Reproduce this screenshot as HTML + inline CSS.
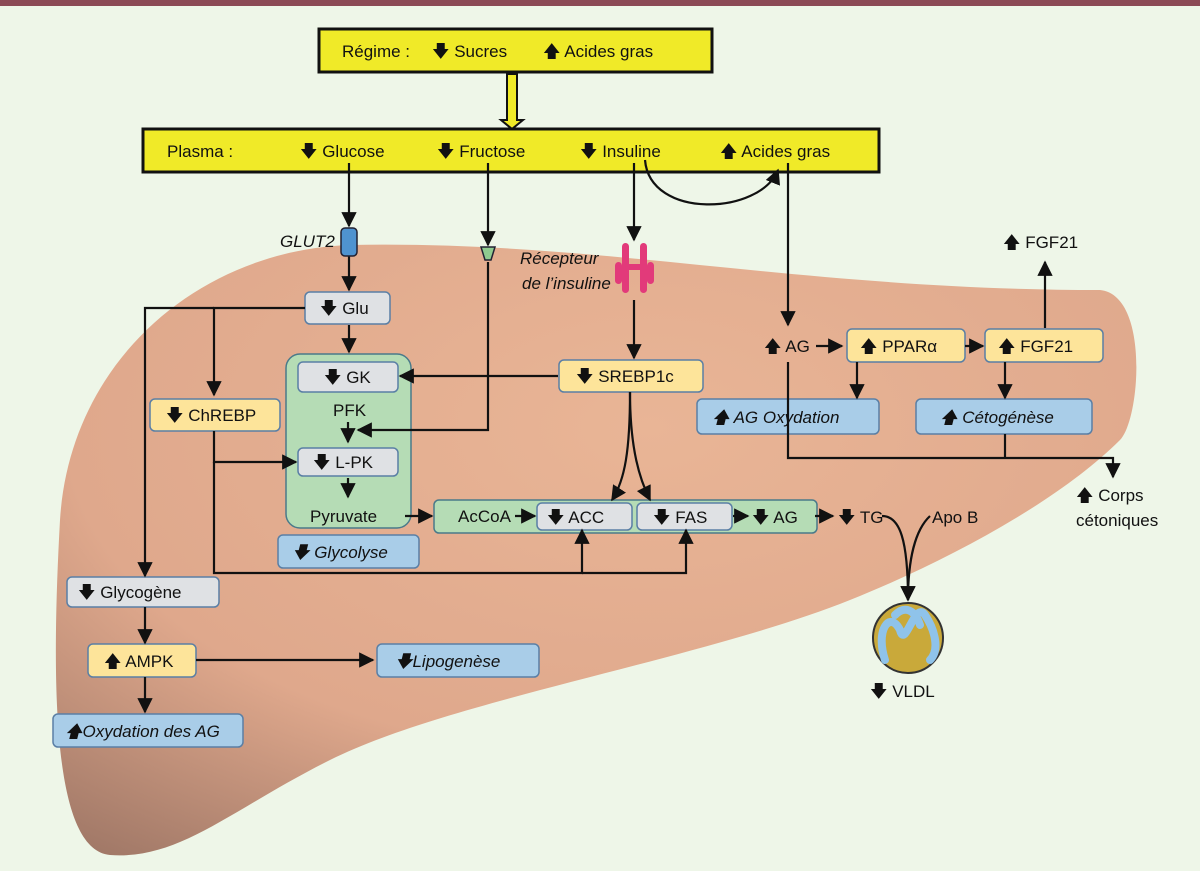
<!DOCTYPE html>
<html><head><meta charset="utf-8"><style>
body{margin:0;background:#eef6e8}
svg{display:block}
text{font-family:"Liberation Sans",sans-serif;font-size:17px;fill:#111}
.i{font-style:italic}
</style></head><body>
<svg width="1200" height="871" viewBox="0 0 1200 871" xmlns="http://www.w3.org/2000/svg">
<defs>
<radialGradient id="lv" cx="0.55" cy="0.3" r="0.9">
<stop offset="0" stop-color="#e9b596"/><stop offset="0.6" stop-color="#dfa88c"/><stop offset="1" stop-color="#9a7363"/>
</radialGradient>
<marker id="a" viewBox="0 0 10 10" refX="9" refY="5" markerWidth="7" markerHeight="7" orient="auto-start-reverse"><path d="M0,0L10,5L0,10z" fill="#111"/></marker>
</defs>
<rect width="1200" height="871" fill="#eef6e8"/>
<rect width="1200" height="6" fill="#8b4a55"/>
<path d="M60,520 C70,360 200,250 350,245 C600,240 800,290 1100,290 C1150,295 1140,420 1120,440 C1060,500 950,560 850,600 C700,660 450,700 330,760 C230,810 180,860 110,855 C55,850 50,700 60,520Z" fill="url(#lv)"/>
<rect x="319" y="29" width="393" height="43" fill="#f0ea28" stroke="#111" stroke-width="3"/>
<text x="342" y="57">Régime :</text><text x="432" y="57">🡇 Sucres</text><text x="543" y="57">🡅 Acides gras</text>
<rect x="143" y="129" width="736" height="43" fill="#f0ea28" stroke="#111" stroke-width="3"/>
<text x="167" y="157">Plasma :</text>
<text x="300" y="157">🡇 Glucose</text><text x="437" y="157">🡇 Fructose</text><text x="580" y="157">🡇 Insuline</text><text x="720" y="157">🡅 Acides gras</text>
<path d="M507,74V120H501L512,129L523,120H517V74Z" fill="#f0ea28" stroke="#111" stroke-width="2"/>
<rect x="286" y="354" width="125" height="174" rx="14" fill="#b5dcb5" stroke="#4a7a8a" stroke-width="1.5"/>
<rect x="434" y="500" width="383" height="33" rx="5" fill="#b5dcb5" stroke="#4a7a8a" stroke-width="1.5"/>
<g stroke="#5a7fa5" stroke-width="1.5">
<rect x="305" y="292" width="85" height="32" rx="5" fill="#dfe1e4"/>
<rect x="298" y="362" width="100" height="30" rx="5" fill="#dfe1e4"/>
<rect x="298" y="448" width="100" height="28" rx="5" fill="#dfe1e4"/>
<rect x="537" y="503" width="95" height="27" rx="5" fill="#dfe1e4"/>
<rect x="637" y="503" width="95" height="27" rx="5" fill="#dfe1e4"/>
<rect x="67" y="577" width="152" height="30" rx="5" fill="#dfe1e4"/>
<rect x="150" y="399" width="130" height="32" rx="5" fill="#fde49a"/>
<rect x="559" y="360" width="144" height="32" rx="5" fill="#fde49a"/>
<rect x="88" y="644" width="108" height="33" rx="5" fill="#fde49a"/>
<rect x="847" y="329" width="118" height="33" rx="5" fill="#fde49a"/>
<rect x="985" y="329" width="118" height="33" rx="5" fill="#fde49a"/>
<rect x="278" y="535" width="141" height="33" rx="5" fill="#a9cde8"/>
<rect x="53" y="714" width="190" height="33" rx="5" fill="#a9cde8"/>
<rect x="377" y="644" width="162" height="33" rx="5" fill="#a9cde8"/>
<rect x="697" y="399" width="182" height="35" rx="5" fill="#a9cde8"/>
<rect x="916" y="399" width="176" height="35" rx="5" fill="#a9cde8"/>
</g>
<g stroke="#111" stroke-width="2.2" fill="none" marker-end="url(#a)">
<line x1="349" y1="163" x2="349" y2="226"/>
<line x1="349" y1="254" x2="349" y2="290"/>
<line x1="488" y1="163" x2="488" y2="245"/>
<line x1="634" y1="163" x2="634" y2="240"/>
<line x1="634" y1="300" x2="634" y2="358"/>
<line x1="788" y1="163" x2="788" y2="325"/>
<path d="M645,160 C650,220 760,215 778,170"/>
<line x1="349" y1="325" x2="349" y2="352"/>
<path d="M558,376H400"/>
<path d="M488,262V430H358"/>
<line x1="348" y1="422" x2="348" y2="442"/>
<line x1="348" y1="478" x2="348" y2="497"/>
<path d="M405,516H432"/>
<path d="M515,516H535"/>
<path d="M733,516H748"/>
<path d="M815,516H833"/>
<path d="M305,308H214V395"/>
<path d="M214,308H145V576"/>
<path d="M214,431V462H296"/>
<path d="M214,462V573H582V530"/>
<path d="M582,573H686V530"/>
<path d="M630,392C630,450 625,480 612,500"/>
<path d="M630,392C630,450 640,480 650,500"/>
<line x1="145" y1="607" x2="145" y2="643"/>
<line x1="145" y1="677" x2="145" y2="712"/>
<path d="M196,660H373"/>
<path d="M816,346H842"/>
<path d="M965,346H983"/>
<line x1="857" y1="362" x2="857" y2="398"/>
<line x1="1005" y1="362" x2="1005" y2="398"/>
<line x1="1045" y1="328" x2="1045" y2="262"/>
<path d="M788,362V458H1113V477"/>
<path d="M882,516C900,516 908,540 908,600"/>
<path d="M930,516C915,530 908,560 908,600"/>
</g>
<line x1="1005" y1="434" x2="1005" y2="458" stroke="#111" stroke-width="2.2"/>
<rect x="341" y="228" width="16" height="28" rx="4" fill="#4f93d0" stroke="#223" stroke-width="1.5"/>
<text x="280" y="247" class="i" font-size="15">GLUT2</text>
<path d="M481,247H495L491,260H485Z" fill="#8fcb8f" stroke="#223" stroke-width="1.5"/>
<g fill="#e23a7a"><rect x="622" y="243" width="7" height="50" rx="3.5"/><rect x="640" y="243" width="7" height="50" rx="3.5"/><rect x="628" y="264" width="13" height="6"/><rect x="615" y="262" width="7" height="22" rx="3.5"/><rect x="647" y="262" width="7" height="22" rx="3.5"/></g>
<text x="520" y="264" class="i">Récepteur</text><text x="522" y="289" class="i">de l’insuline</text>
<text x="320" y="314">🡇 Glu</text>
<text x="324" y="383">🡇 GK</text>
<text x="333" y="416">PFK</text>
<text x="313" y="468">🡇 L-PK</text>
<text x="310" y="522">Pyruvate</text>
<text x="458" y="522">AcCoA</text>
<text x="547" y="523">🡇 ACC</text>
<text x="653" y="523">🡇 FAS</text>
<text x="752" y="523">🡇 AG</text>
<text x="838" y="523">🡇 TG</text>
<text x="932" y="523">Apo B</text>
<text x="166" y="421">🡇 ChREBP</text>
<text x="576" y="382">🡇 SREBP1c</text>
<text x="78" y="598">🡇 Glycogène</text>
<text x="104" y="667">🡅 AMPK</text>
<text x="292" y="558" class="i">🡇 Glycolyse</text>
<text x="65" y="737" class="i">🡅Oxydation des AG</text>
<text x="395" y="667" class="i">🡇Lipogenèse</text>
<text x="712" y="423" class="i">🡅 AG Oxydation</text>
<text x="940" y="423" class="i">🡅 Cétogénèse</text>
<text x="764" y="352">🡅 AG</text>
<text x="860" y="352">🡅 PPARα</text>
<text x="998" y="352">🡅 FGF21</text>
<text x="1003" y="248">🡅 FGF21</text>
<text x="1076" y="501">🡅 Corps</text>
<text x="1076" y="526">cétoniques</text>
<text x="870" y="697">🡇 VLDL</text>
<circle cx="908" cy="638" r="35" fill="#c9a93a" stroke="#333" stroke-width="2"/>
<path d="M885,660C875,630 890,610 900,630C905,650 915,600 925,615C935,630 940,650 930,660M895,615C905,605 915,610 920,625" stroke="#8fc3ea" stroke-width="8" fill="none" stroke-linecap="round"/>
</svg>
</body></html>
